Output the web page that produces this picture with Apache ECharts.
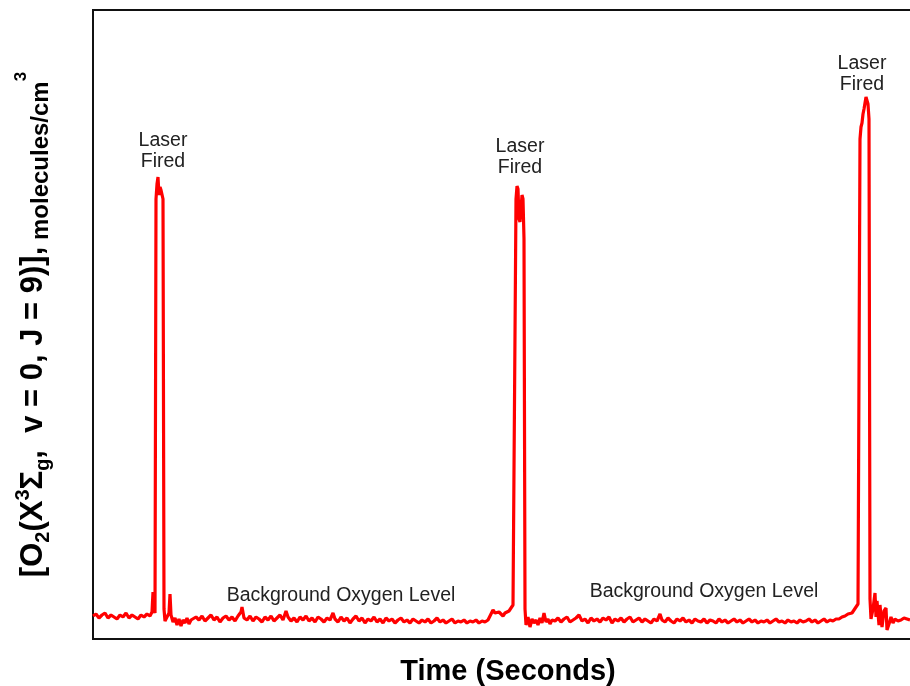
<!DOCTYPE html>
<html>
<head>
<meta charset="utf-8">
<script src="https://cdn.jsdelivr.net/npm/echarts@6/dist/echarts.min.js"></script>
<style>
html, body { margin: 0; padding: 0; background: #fff; }
#main { width: 910px; height: 686px; }
</style>
</head>
<body>
<div id="main"></div>
<script>
// [time, O2 level] pairs, arbitrary units
var background1 = [[0,23],[3,25],[6,21],[9,24],[12,26],[15,21],[18,24],[21,22],[24,20],[27,24],[30,22],[33,26],[36,21],[39,24],[42,22],[45,20],[48,24],[51,22],[54,25],[57,23],[59,27],[60,47],[61,30],[62,26]];
var pulse1 = [[63,440],[64,455],[65,462],[66,444],[67,452],[68,449],[69,447],[70,440],[71,30]];
var background2 = [[72,18],[74,22],[76,26],[77,45],[78,24],[80,17],[82,21],[84,14],[86,20],[88,13],[90,19],[92,16],[94,21],[96,15],[98,19],
    [100,17],[103,22],[106,19],[109,23],[112,18],[115,21],[118,24],[121,19],[124,22],[127,17],[130,21],[133,23],[136,19],[139,22],[142,18],[145,23],[148,27],[149,32],[151,21],[154,19],[157,23],[160,18],[163,22],[166,20],[169,17],[172,22],[175,19],[178,23],[181,18],[184,21],[187,24],[190,19],[193,28],[195,22],[198,18],[201,21],[204,17],[207,22],[210,19],[213,23],[216,18],[219,21],[222,17],[225,22],[228,20],[231,17],[234,21],[237,19],[240,26],[242,20],[245,17],[248,22],[251,18],[254,21],[257,16],[260,20],[263,23],[266,18],[269,21],[272,16],[275,20],[278,18],[281,22],[284,17],[287,20],[290,16],[293,21],[296,18],[299,20],[302,16],[305,19],[308,21],[311,17],[314,19],[317,16],[320,20],[323,18],[326,16],[329,19],[332,17],[335,20],[338,16],[341,18],[344,21],[347,17],[350,19],[353,16],[356,18],[359,20],[362,16],[365,18],[368,17],[371,19],[374,16],[377,18],[380,17],[383,19],[386,16],[389,18],[392,17],[395,19],[397,17],
    [400,29],[402,26],[404,24],[406,27],[408,25],[410,23],[412,26],[414,27],[416,28],[418,31],[420,34],[421,33]];
var pulse2 = [[423,440],[424,453],[425,450],[426,420],[427,417],[428,430],[429,444],[430,440],[431,400],[432,30]];
var background3 = [[433,14],[435,22],[437,12],[439,20],[441,16],[443,19],[445,14],[447,21],[449,16],[451,26],[453,17],[455,20],[457,15],[459,19],
    [462,18],[465,21],[468,17],[471,20],[474,22],[477,17],[480,19],[483,21],[486,24],[489,18],[492,20],[495,16],[498,21],[501,18],[504,20],[507,17],[510,21],[513,19],[516,22],[519,16],[522,20],[525,18],[528,21],[531,17],[534,20],[537,22],[540,17],[543,19],[546,21],[549,17],[552,20],[555,18],[558,16],[561,20],[564,18],[567,25],[569,19],[572,17],[575,21],[578,18],[581,16],[584,20],[587,18],[590,21],[593,17],[596,19],[599,16],[602,20],[605,18],[608,17],[611,20],[614,16],[617,19],[620,18],[623,16],[626,20],[629,17],[632,19],[635,16],[638,18],[641,20],[644,17],[647,19],[650,16],[653,18],[656,20],[659,17],[662,19],[665,16],[668,18],[671,17],[674,19],[677,16],[680,18],[683,20],[686,17],[689,18],[692,16],[695,19],[698,17],[701,18],[704,16],[707,19],[710,17],[713,18],[716,20],[719,17],[722,19],[725,16],[728,18],[731,20],[734,17],[737,19],[740,18],[743,20],
    [746,20],[749,22],[752,23],[755,25],[757,27],[759,26],[761,29],[763,31],[765,35],[766,33]];
var pulse3 = [[767,500],[768,512],[769,516],[770,525],[771,530],[772,536],[773,542],[774,540],[775,535],[776,520],[777,40]];
var background4 = [[778,20],[780,30],[782,46],[783,22],[784,38],[786,14],[787,34],[789,12],[791,28],[793,31],[794,9],[796,15],[798,22],[800,16],[802,20],[805,18],[808,19],[811,21],[814,20],[817,19]];

var trace = [].concat(background1, pulse1, background2, pulse2, background3, pulse3, background4);

// annotations: [text, time, level]
var notes = [
    ['Laser\nFired', 70, 488],
    ['Laser\nFired', 427, 482],
    ['Laser\nFired', 769, 565],
    ['Background Oxygen Level', 248, 43],
    ['Background Oxygen Level', 611, 47]
];

var FONT = '"Liberation Sans", Arial, Helvetica, sans-serif';

var myChart = echarts.init(document.getElementById('main'));
var option = {
    animation: false,
    backgroundColor: '#fff',
    grid: {
        left: 93,
        top: 10,
        width: 830,
        height: 629,
        outerBoundsMode: 'none',
        containLabel: false,
        show: true,
        borderColor: '#111',
        borderWidth: 2
    },
    xAxis: {
        type: 'value',
        min: 0,
        max: 830,
        name: 'Time (Seconds)',
        nameLocation: 'middle',
        nameGap: 18,
        nameTextStyle: { fontFamily: FONT, fontSize: 29, fontWeight: 'bold', color: '#000' },
        axisLine: { show: false },
        axisTick: { show: false },
        axisLabel: { show: false },
        splitLine: { show: false }
    },
    yAxis: {
        type: 'value',
        min: 0,
        max: 629,
        name: '{a|[O}{as|2}{a|(X}{ap|3}{a|Σ}{as|g}{a|,  v = 0, J = 9)],}{b| molecules/cm}{bp|3}',
        nameLocation: 'middle',
        nameRotate: 90,
        nameGap: 40,
        nameTextStyle: {
            fontFamily: FONT,
            color: '#000',
            rich: {
                a: { fontFamily: FONT, fontSize: 31, fontWeight: 'bold', color: '#000', lineHeight: 40 },
                as: { fontFamily: FONT, fontSize: 20, fontWeight: 'bold', color: '#000', lineHeight: 20, verticalAlign: 'bottom' },
                ap: { fontFamily: FONT, fontSize: 20, fontWeight: 'bold', color: '#000', lineHeight: 20, verticalAlign: 'top' },
                b: { fontFamily: FONT, fontSize: 24, fontWeight: 'bold', color: '#000', lineHeight: 38, verticalAlign: 'bottom' },
                bp: { fontFamily: FONT, fontSize: 17, fontWeight: 'bold', color: '#000', lineHeight: 17, verticalAlign: 'top' }
            }
        },
        axisLine: { show: false },
        axisTick: { show: false },
        axisLabel: { show: false },
        splitLine: { show: false }
    },
    series: [{
        type: 'line',
        data: trace,
        symbol: 'none',
        lineStyle: { color: '#ff0000', width: 3.2 },
        markPoint: {
            symbol: 'circle',
            symbolSize: 0,
            label: {
                show: true,
                position: 'inside',
                fontFamily: FONT,
                fontSize: 19.5,
                lineHeight: 21,
                color: '#222',
                formatter: function (p) { return p.name; }
            },
            data: notes.map(function (n) {
                return { name: n[0], coord: [n[1], n[2]] };
            })
        }
    }]
};
myChart.setOption(option);

window.addEventListener('resize', function () {
    myChart.resize();
});
</script>
</body>
</html>
